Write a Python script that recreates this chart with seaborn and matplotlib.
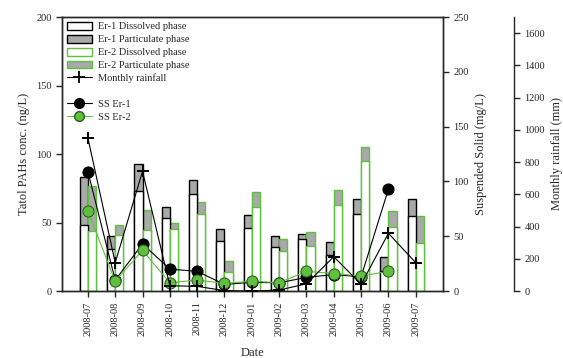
import numpy as np
import pandas as pd
import matplotlib
matplotlib.use("Agg")
import matplotlib.pyplot as plt
import seaborn as sns
from matplotlib.patches import Patch
from matplotlib.lines import Line2D

# values
dates = ["2008-07", "2008-08", "2008-09", "2008-10", "2008-11", "2008-12", "2009-01",
         "2009-02", "2009-03", "2009-04", "2009-05", "2009-06", "2009-07"]
er1_total = [83, 40, 93, 61, 81, 45, 55.5, 40, 42, 36, 67, 25, 67]
er1_dissolved = [48, 31, 73, 53, 71, 36.5, 46, 32, 38, 26, 56, 15, 55]
er2_total = [77, 48, 59, 50, 65, 22, 72, 38, 43, 73.5, 105, 58.5, 55]
er2_dissolved = [44, 41, 44.5, 45.5, 56, 14, 61.5, 29, 33, 62.5, 95, 46.7, 35]
ss_er1 = [109, 10, 43, 20, 18, 6, 8, 7.5, 12.5, 15, 13, 93, np.nan]
ss_er2 = [73, 9, 37, 7.6, 10, 7, 9, 7.6, 18, 16, 13.7, 18, np.nan]
rainfall = [950, 176, 743, 33, 29, 3, 0, 6, 45, 213, 42, 358, 176]

green = "#5fbf3f"
gray = "#a9a9a9"

sns.set_theme(style="ticks")
plt.rcParams["font.family"] = ["Liberation Serif", "DejaVu Serif"]
plt.rcParams["axes.linewidth"] = 1.0

bars = pd.DataFrame({
    "date": dates * 2,
    "site": ["Er-1"] * len(dates) + ["Er-2"] * len(dates),
    "total": er1_total + er2_total,
    "dissolved": er1_dissolved + er2_dissolved,
})
pos = np.arange(len(dates))

fig = plt.figure(figsize=(5.63, 3.58), dpi=100)
ax = fig.add_axes([0.110, 0.187, 0.677, 0.7655])

sns.barplot(data=bars, x="date", y="total", hue="site", hue_order=["Er-1", "Er-2"],
            dodge=True, width=0.6, ax=ax, legend=False, saturation=1,
            palette=[gray, gray])
sns.barplot(data=bars, x="date", y="dissolved", hue="site", hue_order=["Er-1", "Er-2"],
            dodge=True, width=0.6, ax=ax, legend=False, saturation=1,
            palette=["white", "white"])

# style the stacked bars: gray total under white dissolved part
for i, cont in enumerate(ax.containers):
    edge = "black" if i % 2 == 0 else green
    face = gray if i < 2 else "white"
    for p in cont:
        p.set_facecolor(face)
        p.set_edgecolor(edge)
        p.set_linewidth(1.0)

ax.set_xlim(-0.95, 13.0)
ax.set_ylim(0, 200)
ax.set_yticks(np.arange(0, 201, 50))
ax.set_ylabel("Tatol PAHs conc. (ng/L)", fontsize=9)
ax.set_xlabel("Date", fontsize=9, labelpad=8)
ax.tick_params(axis="x", rotation=90, labelsize=7.5, length=4, width=1, direction="out")
ax.tick_params(axis="y", labelsize=7.5, length=4, width=1, direction="out")

# suspended solid axis
ax2 = ax.twinx()
sns.lineplot(x=pos, y=ss_er1, ax=ax2, color="black", lw=0.8, marker="o", markersize=8,
             markeredgecolor="black", errorbar=None)
sns.lineplot(x=pos, y=ss_er2, ax=ax2, color=green, lw=0.8, marker="o", markersize=8,
             markerfacecolor=green, markeredgecolor="#2c5a1e", errorbar=None)
ax2.set_ylim(0, 250)
ax2.set_yticks(np.arange(0, 251, 50))
ax2.set_ylabel("Suspended Solid (mg/L)", fontsize=9)
ax2.tick_params(axis="y", labelsize=7.5, length=4, width=1, direction="out")

# monthly rainfall axis
ax3 = ax.twinx()
sns.lineplot(x=pos, y=rainfall, ax=ax3, color="black", lw=0.8, marker="+", markersize=9,
             markeredgewidth=1.4, markeredgecolor="black", errorbar=None)
ax3.spines["right"].set_position(("axes", 1.186))
for s in ["top", "left", "bottom"]:
    ax3.spines[s].set_visible(False)
ax3.set_ylim(0, 1700)
ax3.set_yticks(np.arange(0, 1601, 200))
ax3.set_ylabel("Monthly rainfall (mm)", fontsize=9)
ax3.tick_params(axis="y", labelsize=7.5, length=4, width=1, direction="out")
ax3.set_xlim(-0.95, 13.0)

handles = [
    Patch(facecolor="white", edgecolor="black", lw=1.0),
    Patch(facecolor=gray, edgecolor="black", lw=1.0),
    Patch(facecolor="white", edgecolor=green, lw=1.0),
    Patch(facecolor=gray, edgecolor=green, lw=1.0),
    Line2D([], [], color="black", lw=0.8, marker="+", markersize=9, mew=1.3),
    Line2D([], [], color="none"),
    Line2D([], [], color="black", lw=0.8, marker="o", markersize=7),
    Line2D([], [], color=green, lw=0.8, marker="o", markersize=7,
           markerfacecolor=green, markeredgecolor="#2c5a1e"),
]
labels = ["Er-1 Dissolved phase", "Er-1 Particulate phase", "Er-2 Dissolved phase",
          "Er-2 Particulate phase", "Monthly rainfall", "", "SS Er-1", "SS Er-2"]
ax3.legend(handles, labels, loc="upper left", bbox_to_anchor=(0.0, 1.0), frameon=False,
           fontsize=7.5, handlelength=2.4, handleheight=0.8, labelspacing=0.32,
           borderaxespad=0.2, borderpad=0.25, handletextpad=0.6)

fig.savefig("out.png", dpi=100)
